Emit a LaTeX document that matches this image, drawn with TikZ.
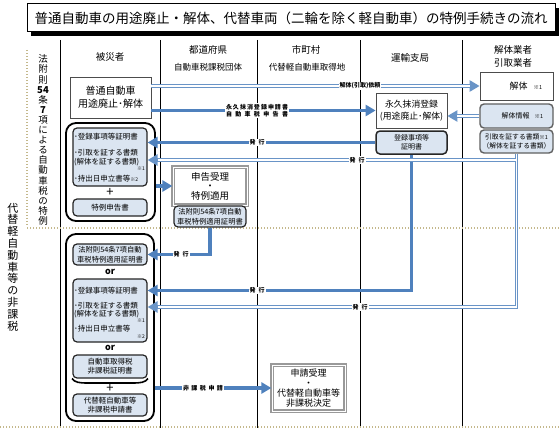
\documentclass[tikz,border=0pt]{standalone}
\usepackage{fontspec}
\setmainfont{Noto Sans CJK JP}
\usetikzlibrary{arrows.meta,calc}
\definecolor{ablue}{RGB}{79,129,189}
\definecolor{lblue}{RGB}{219,229,241}
\definecolor{dotc}{RGB}{196,184,140}
\newcommand{\fs}[2]{\fontsize{#1}{#2}\selectfont}
\tikzset{
  colline/.style={draw=black, line width=0.8pt},
  dotline/.style={draw=dotc, line width=1.3pt, dash pattern=on 1.3pt off 1.7pt},
  plainbox/.style={draw=gray!60!black, line width=0.8pt, fill=white, inner sep=0pt, align=center},
  bluebox/.style={draw=black!85, line width=1.2pt, fill=lblue, rounded corners=4pt, inner sep=0pt, align=center, font=\fs{7.5}{9}},
  graybluebox/.style={draw=gray!75!black, line width=1.4pt, fill=lblue, rounded corners=4pt, inner sep=0pt, align=center, font=\fs{7}{9}},
  groupbox/.style={draw=black, line width=1.8pt, fill=white, rounded corners=10pt, inner sep=0pt},
  decbox/.style={draw=gray!80, line width=1.2pt, double=white, double distance=0.9pt, fill=white, inner sep=0pt, align=center},
  hdr/.style={font=\fs{9.5}{11}, inner sep=0pt},
  hdrsub/.style={font=\fs{8.5}{10}, inner sep=0pt},
  itm/.style={font=\fs{7.5}{9}, inner sep=0pt, anchor=west},
  note/.style={font=\fs{5}{6}, inner sep=0pt, anchor=east},
  ortext/.style={font=\fs{9}{10}\bfseries, inner sep=0pt},
  plustext/.style={font=\fs{13}{13}, inner sep=0pt},
  lbl/.style={fill=white, inner sep=1pt, font=\fs{6}{7}\bfseries, align=center},
  thkarrow/.style={draw=ablue, line width=3.5pt, -{Triangle[length=10pt,width=11pt]}},
  dblo/.style={draw=ablue!85, line width=3.2pt, -{Triangle[length=10pt,width=11pt]}},
  dbli/.style={draw=white, line width=1.1pt, shorten >=10pt},
}
\begin{document}
\begin{tikzpicture}[x=1pt,y=-1pt]
\useasboundingbox (0,0) rectangle (560,428);
% title
\fill[black] (31,8) rectangle (559,36);
\node[draw=black, line width=1pt, fill=white, minimum width=528pt, minimum height=28pt, inner sep=0pt, font=\fs{13.5}{15}] (title) at (291,18) {普通自動車の用途廃止・解体、代替車両（二輪を除く軽自動車）の特例手続きの流れ};
% column lines
\draw[colline] (60,40) -- (60,428);
\draw[colline] (160,40) -- (160,428);
\draw[colline] (257,40) -- (257,428);
\draw[colline] (360,40) -- (360,428);
\draw[colline] (462,40) -- (462,428);
% dotted lines
\draw[dotline] (27,50) -- (27,226);
\draw[dotline] (27,228) -- (560,228);
\draw[dotline] (0,427) -- (560,427);
% vertical labels
\node[align=center, inner sep=0pt, font=\fs{9.5}{10.1}] (vl1) at (43,140) {法\\附\\則\\\textbf{54}\\条\\\textbf{7}\\項\\に\\よ\\る\\自\\動\\車\\税\\の\\特\\例};
\node[align=center, inner sep=0pt, font=\fs{11}{11.8}] (vl2) at (13,267) {代\\替\\軽\\自\\動\\車\\等\\の\\非\\課\\税};
% headers
\node[hdr] (h1) at (110,57) {被災者};
\node[hdr] (h2) at (208,50) {都道府県};
\node[hdrsub] (h2b) at (208,67) {自動車税課税団体};
\node[hdr] (h3) at (306,50) {市町村};
\node[hdrsub] (h3b) at (307,67) {代替軽自動車取得地};
\node[hdr] (h4) at (410,58) {運輸支局};
\node[hdr] (h5) at (513,50) {解体業者};
\node[hdr] (h5b) at (513,63) {引取業者};
% top boxes
\node[plainbox, minimum width=81pt, minimum height=41pt, font=\fs{10}{13}] (b1) at (110.5,97.5) {普通自動車\\用途廃止･解体};
\node[plainbox, minimum width=71pt, minimum height=35pt, font=\fs{8.8}{12}] (eikyu) at (411.5,110.5) {永久抹消登録\\(用途廃止･解体)};
\node[plainbox, minimum width=73pt, minimum height=28pt, font=\fs{9}{11}] (kaitai) at (516.5,86) {\hspace*{19pt}解体\hspace{6pt}{\fs{5.5}{6}※1}};
\node[graybluebox, minimum width=73pt, minimum height=24pt] (kjoho) at (516.5,116) {\hspace*{12pt}解体情報\hspace{5pt}{\fs{5.5}{6}※1}};
\node[graybluebox, minimum width=73pt, minimum height=23pt, font=\fs{6.8}{9}] (hikitori) at (516.5,141.5) {引取を証する書類{\fs{5.5}{6}※1}\\（解体を証する書類）};
\node[bluebox, line width=1.5pt, minimum width=71pt, minimum height=23pt, font=\fs{7}{9}] (toroku) at (411.5,142.5) {登録事項等\\証明書};
% group 1
\node[groupbox, minimum width=89pt, minimum height=98pt] (g1) at (110.5,172) {};
\node[bluebox, minimum width=74pt, minimum height=58pt] (g1a) at (110,157) {};
\node[itm] (g1t1) at (74,137) {･登録事項等証明書};
\node[itm] (g1t2) at (74,153) {･引取を証する書類};
\node[itm] (g1t3) at (74,162) {(解体を証する書類)};
\node[note] (g1t4) at (145,169) {※1};
\node[itm] (g1t5) at (74,179) {･持出日申立書等{\fs{5}{6}※2}};
\node[plustext] (plus1) at (110,192) {+};
\node[bluebox, minimum width=74pt, minimum height=17pt] (g1b) at (110,207.5) {特例申告書};
% prefecture boxes
\node[decbox, minimum width=74pt, minimum height=38pt, font=\fs{9.5}{9.5}] (shinkoku) at (210,186) {申告受理\\・\\特例適用};
\node[bluebox, minimum width=72pt, minimum height=21pt, font=\fs{7.3}{9.5}] (shomei) at (210,216.5) {法附則54条7項自動\\車税特例適用証明書};
% group 2
\node[groupbox, minimum width=88pt, minimum height=187pt] (g2) at (110,327.5) {};
\node[bluebox, minimum width=74pt, minimum height=21pt, font=\fs{7.3}{9.5}] (g2a) at (110,254.5) {法附則54条7項自動\\車税特例適用証明書};
\node[ortext] (or1) at (110,272) {or};
\node[bluebox, minimum width=74pt, minimum height=63pt] (g2b) at (110,310.5) {};
\node[itm] (g2t1) at (74,291) {･登録事項等証明書};
\node[itm] (g2t2) at (74,306) {･引取を証する書類};
\node[itm] (g2t3) at (74,314) {(解体を証する書類)};
\node[note] (g2t4) at (145,320.5) {※1};
\node[itm] (g2t5) at (74,329) {･持出日申立書等};
\node[note] (g2t6) at (145,337) {※2};
\node[ortext] (or2) at (110,348) {or};
\node[bluebox, minimum width=74pt, minimum height=23pt] (g2c) at (110,366.5) {自動車取得税\\非課税証明書};
\draw[line width=1.6pt] (72,378.5) .. controls (75,382.5) and (79,383) .. (88,383) -- (132,383) .. controls (141,383) and (145,382.5) .. (148,378.5);
\node[plustext] (plus2) at (110,388.5) {+};
\node[bluebox, minimum width=74pt, minimum height=22pt] (g2d) at (110,405) {代替軽自動車等\\非課税申請書};
% municipality box
\node[decbox, minimum width=73pt, minimum height=46pt, font=\fs{9}{10}] (shinsei) at (308.5,388) {申請受理\\・\\代替軽自動車等\\非課税決定};
% thick arrows
\draw[thkarrow] (b1.east |- eikyu.west) -- (eikyu.west);
\draw[thkarrow] (toroku.west) -- (toroku.west -| g1a.east);
\draw[thkarrow] (toroku.south) |- ($(g2b.east)+(0,-20)$);
\draw[thkarrow] (shomei.south) |- (g2a.east);
\draw[thkarrow] (g1.east |- shinkoku.west) -- (shinkoku.west);
\draw[thkarrow] (g2.east |- shinsei.west) -- (shinsei.west);
% double arrows (outer)
\draw[dblo] (b1.east |- kaitai.west) -- (kaitai.west);
\draw[dblo] (kjoho.west) -- (kjoho.west -| eikyu.east);
\draw[dblo] (hikitori.south) |- ($(g1a.east)+(0,3)$);
\draw[dblo] (hikitori.south) |- ($(g2b.east)+(0,-3.5)$);
% double arrows (inner)
\draw[dbli] (b1.east |- kaitai.west) -- (kaitai.west);
\draw[dbli] (kjoho.west) -- (kjoho.west -| eikyu.east);
\draw[dbli] (hikitori.south) |- ($(g1a.east)+(0,3)$);
\draw[dbli] (hikitori.south) |- ($(g2b.east)+(0,-3.5)$);
% labels
\node[lbl] (l1) at (360,86) {解体(引取)依頼};
\node[lbl] (l2) at (257,110.5) {\makebox[62pt][s]{永\hfill 久\hfill 抹\hfill 消\hfill 登\hfill 録\hfill 申\hfill 請\hfill 書}\\\makebox[62pt][s]{自\hfill 動\hfill 車\hfill 税\hfill 申\hfill 告\hfill 書}};
\node[lbl] (l3) at (257,142.5) {発\hspace{3pt}行};
\node[lbl] (l4) at (357,160) {発\hspace{3pt}行};
\node[lbl] (l5) at (257,290.5) {発\hspace{3pt}行};
\node[lbl] (l6) at (360,307) {発\hspace{3pt}行};
\node[lbl] (l7) at (181,254.5) {発\hspace{3pt}行};
\node[lbl] (l8) at (203,388) {\makebox[40pt][s]{非\hfill 課\hfill 税\hfill 申\hfill 請}};
\end{tikzpicture}
\end{document}
